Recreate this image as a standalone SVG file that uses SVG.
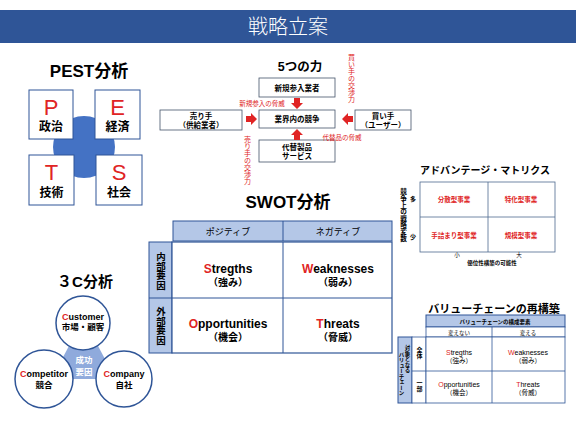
<svg xmlns="http://www.w3.org/2000/svg" width="576" height="432" viewBox="0 0 576 432">
<defs>
<style>
text{font-family:'Liberation Sans','Noto Sans CJK JP',sans-serif;fill:#000}
.b{font-weight:bold}
.c{text-anchor:middle}
.r{fill:#E02424}
.w{fill:#fff}
.box{fill:#fff;stroke:#2F5597;stroke-width:1}
.fbox{fill:#fff;stroke:#44546A;stroke-width:0.8}
.lb{fill:#B4C7E7;stroke:#2F5597;stroke-width:1}
.ln{stroke:#2F5597;stroke-width:1;fill:none}
.v{writing-mode:vertical-rl;text-anchor:middle}
.ttl{font-size:17px;font-weight:bold;text-anchor:middle}
</style>
<path id="arr" d="M0,-3 H5 V-6 L11,0 L5,6 V3 H0 Z" fill="#E02424"/>
</defs>
<rect width="576" height="432" fill="#fff"/>

<g id="title">
<rect x="0" y="10" width="576" height="33" fill="#2F5597"/>
<text x="288" y="34" class="c w" font-size="20" style="font-family:'Noto Sans CJK JP',sans-serif;font-weight:300">戦略立案</text>
</g>

<g id="pest">
<text x="89" y="77" class="ttl">PEST分析</text>
<circle cx="84" cy="147" r="31" fill="#4472C4"/>
<g id="pest-p"><rect x="29" y="90" width="44" height="49" class="box"/><text x="51" y="115" class="c r" font-size="22">P</text><text x="51" y="131" class="c b" font-size="12">政治</text></g>
<g id="pest-e"><rect x="95" y="90" width="45" height="49" class="box"/><text x="117.5" y="115" class="c r" font-size="22">E</text><text x="117.5" y="131" class="c b" font-size="12">経済</text></g>
<g id="pest-t"><rect x="29" y="155" width="45" height="50" class="box"/><text x="51.5" y="180" class="c r" font-size="22">T</text><text x="51.5" y="197" class="c b" font-size="12">技術</text></g>
<g id="pest-s"><rect x="96" y="155" width="46" height="50" class="box"/><text x="119" y="180" class="c r" font-size="22">S</text><text x="119" y="197" class="c b" font-size="12">社会</text></g>
</g>

<g id="five-forces">
<text x="300" y="71" class="c b" font-size="12.5">5つの力</text>
<g id="ff-new"><rect x="259" y="78" width="76" height="19" class="fbox"/><text x="297" y="90.5" class="c b" font-size="7.5">新規参入業者</text></g>
<g id="ff-center"><rect x="259" y="110" width="76" height="18" class="fbox"/><text x="297" y="122" class="c b" font-size="7.5">業界内の競争</text></g>
<g id="ff-sub"><rect x="259" y="140" width="76" height="22" class="fbox"/><text x="297" y="149.5" class="c b" font-size="7.5">代替製品</text><text x="297" y="159" class="c b" font-size="7.5">サービス</text></g>
<g id="ff-seller"><rect x="160" y="110" width="82" height="20" class="fbox"/><text x="201" y="118.5" class="c b" font-size="7.5">売り手</text><text x="201" y="127.5" class="c b" font-size="7.5">（供給業者）</text></g>
<g id="ff-buyer"><rect x="355" y="110" width="56" height="20" class="fbox"/><text x="383" y="118.5" class="c b" font-size="7.5">買い手</text><text x="383" y="127.5" class="c b" font-size="7.5">（ユーザー）</text></g>
</g>

<g id="connectors">
<use href="#arr" transform="translate(246,119)"/>
<use href="#arr" transform="translate(353,119) rotate(180)"/>
<use href="#arr" transform="translate(297,98) rotate(90)"/>
<use href="#arr" transform="translate(297,140) rotate(-90)"/>
<text x="262" y="106" class="c r" font-size="6.5">新規参入の脅威</text>
<text x="342" y="140" class="c r" font-size="6.5">代替品の脅威</text>
<text x="247" y="160" class="v r" font-size="7">売り手の交渉力</text>
<text x="351" y="78" class="v r" font-size="7">買い手の交渉力</text>
</g>

<g id="advantage">
<text x="485" y="174" class="c b" font-size="10">アドバンテージ・マトリクス</text>
<rect x="420" y="182" width="135" height="70" fill="#fff" stroke="#4F6A8F" stroke-width="0.8"/>
<line x1="488" y1="182" x2="488" y2="252" stroke="#4F6A8F" stroke-width="0.8"/>
<line x1="420" y1="217" x2="555" y2="217" stroke="#4F6A8F" stroke-width="0.8"/>
<text x="454" y="202" class="c r b" font-size="6.5">分散型事業</text>
<text x="521" y="202" class="c r b" font-size="6.5">特化型事業</text>
<text x="454" y="238" class="c r b" font-size="6.5">手詰まり型事業</text>
<text x="521" y="238" class="c r b" font-size="6.5">規模型事業</text>
<text x="413" y="201" class="c b" font-size="6">多</text>
<text x="413" y="239" class="c b" font-size="6">少</text>
<text x="403" y="215" class="v b" font-size="6.6">競争上の戦略変数</text>
<text x="457" y="257" class="c" font-size="5.5">小</text>
<text x="519" y="257" class="c" font-size="5.5">大</text>
<text x="492" y="265" class="c b" font-size="5.5">優位性構築の可能性</text>
</g>

<g id="swot">
<text x="288" y="208" class="ttl">SWOT分析</text>
<rect x="173" y="221" width="219" height="20" class="lb"/>
<line x1="283" y1="221" x2="283" y2="241" class="ln"/>
<text x="228" y="235" class="c" font-size="9">ポジティブ</text>
<text x="338" y="235" class="c" font-size="9">ネガティブ</text>
<rect x="149" y="242" width="23" height="111" class="lb"/>
<line x1="149" y1="298" x2="172" y2="298" class="ln"/>
<text x="160.5" y="271" class="v b" font-size="9.5">内部要因</text>
<text x="160.5" y="326" class="v b" font-size="9.5">外部要因</text>
<rect x="172" y="242" width="220" height="111" fill="#fff" stroke="#2F5597" stroke-width="1.2"/>
<line x1="283" y1="242" x2="283" y2="353" class="ln"/>
<line x1="172" y1="298" x2="392" y2="298" class="ln"/>
<text x="228" y="273" class="c b" font-size="12"><tspan class="r">S</tspan>tregths</text>
<text x="228" y="286" class="c b" font-size="10">（強み）</text>
<text x="338" y="273" class="c b" font-size="12"><tspan class="r">W</tspan>eaknesses</text>
<text x="338" y="286" class="c b" font-size="10">（弱み）</text>
<text x="228" y="328" class="c b" font-size="12"><tspan class="r">O</tspan>pportunities</text>
<text x="228" y="341" class="c b" font-size="10">（機会）</text>
<text x="338" y="328" class="c b" font-size="12"><tspan class="r">T</tspan>hreats</text>
<text x="338" y="341" class="c b" font-size="10">（脅威）</text>
</g>

<g id="three-c">
<text x="85" y="287" class="c b" font-size="15">３C分析</text>
<polygon points="70,344 97,344 106,361 97,379 70,379 61,361" fill="#8FAADC"/>
<g id="c-customer"><circle cx="83" cy="323" r="27" fill="#fff" stroke="#2F5597" stroke-width="1.5"/><text x="83" y="320" class="c b" font-size="9"><tspan class="r">C</tspan>ustomer</text><text x="83" y="330" class="c b" font-size="8.5">市場・顧客</text></g>
<g id="c-competitor"><circle cx="44" cy="379" r="29" fill="#fff" stroke="#2F5597" stroke-width="1.5"/><text x="44" y="377" class="c b" font-size="9"><tspan class="r">C</tspan>ompetitor</text><text x="44" y="388" class="c b" font-size="8.5">競合</text></g>
<g id="c-company"><circle cx="124" cy="379" r="28" fill="#fff" stroke="#2F5597" stroke-width="1.5"/><text x="124" y="377" class="c b" font-size="9"><tspan class="r">C</tspan>ompany</text><text x="124" y="388" class="c b" font-size="8.5">自社</text></g>
<text x="84" y="363" class="c w b" font-size="8.5">成功</text>
<text x="84" y="375" class="c w b" font-size="8.5">要因</text>
</g>

<g id="value-chain">
<text x="494" y="313" class="c b" font-size="11">バリューチェーンの再構築</text>
<rect x="426" y="315" width="139" height="12" class="lb"/>
<text x="495" y="323.5" class="c b" font-size="5.5">バリューチェーンの構成要素</text>
<rect x="426" y="327" width="139" height="10" fill="#fff" stroke="#2F5597" stroke-width="0.8"/>
<line x1="492" y1="327" x2="492" y2="337" stroke="#2F5597" stroke-width="0.8"/>
<text x="459" y="334.5" class="c" font-size="5.5">変えない</text>
<text x="528" y="334.5" class="c" font-size="5.5">変える</text>
<rect x="398" y="337" width="14" height="66" class="lb" stroke-width="0.8"/>
<rect x="412" y="337" width="14" height="66" fill="#fff" stroke="#2F5597" stroke-width="0.8"/>
<line x1="412" y1="371" x2="426" y2="371" stroke="#2F5597" stroke-width="0.8"/>
<text x="407.5" y="359" class="v b" font-size="5.5">対象となる</text>
<text x="401.5" y="374" class="v b" font-size="5.5">バリューチェーン</text>
<text x="419" y="353" class="v b" font-size="6">全体</text>
<text x="419" y="386" class="v b" font-size="6">一部</text>
<rect x="426" y="337" width="139" height="66" fill="#fff" stroke="#2F5597" stroke-width="0.8"/>
<line x1="492" y1="337" x2="492" y2="403" stroke="#2F5597" stroke-width="0.8"/>
<line x1="426" y1="371" x2="565" y2="371" stroke="#2F5597" stroke-width="0.8"/>
<text x="459" y="355" class="c" font-size="7"><tspan class="r">S</tspan>tregths</text>
<text x="459" y="363" class="c" font-size="6.5">（強み）</text>
<text x="528" y="355" class="c" font-size="7"><tspan class="r">W</tspan>eaknesses</text>
<text x="528" y="363" class="c" font-size="6.5">（弱み）</text>
<text x="459" y="387" class="c" font-size="7"><tspan class="r">O</tspan>pportunities</text>
<text x="459" y="395" class="c" font-size="6.5">（機会）</text>
<text x="528" y="387" class="c" font-size="7"><tspan class="r">T</tspan>hreats</text>
<text x="528" y="395" class="c" font-size="6.5">（脅威）</text>
</g>
</svg>
